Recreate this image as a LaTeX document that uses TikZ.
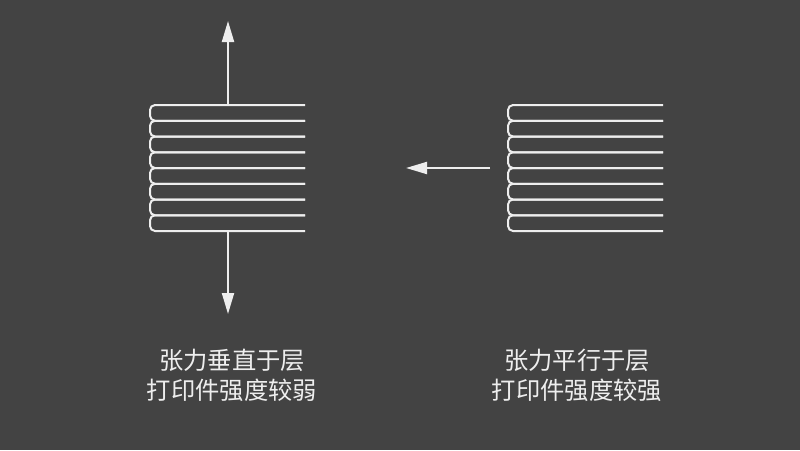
\documentclass[tikz,border=0pt]{standalone}
\usepackage{fontspec}
\newfontfamily\cjk{Noto Sans CJK SC}
\usetikzlibrary{arrows.meta}
\definecolor{bg}{HTML}{434343}
\definecolor{ink}{HTML}{EEEEEE}
\tikzset{
  layer/.style={draw=ink, line width=2pt},
  force/.style={draw=ink, line width=2pt, -{Triangle[length=21pt,width=12pt]}},
  caption/.style={text=ink, font=\cjk\fontsize{24.3}{30}\selectfont, align=center, inner sep=0pt}
}
% one stack of printed layers, joined by small bends on the left
\newcommand{\layerstack}[3]{% left x, right x, name prefix
  \foreach \i in {0,...,8}{
    \coordinate (#3r\i) at (#2,105+\i*15.75);
  }
  \foreach \i [evaluate=\i as \j using int(\i+1)] in {0,...,7}{
    \draw[layer, rounded corners=5pt] (#3r\i) -- (#1,105+\i*15.75) -- (#1,105+\j*15.75) -- (#3r\j);
  }
}
\begin{document}
\begin{tikzpicture}[x=1pt,y=-1pt]
  \fill[bg] (0,0) rectangle (800,450);
  \useasboundingbox (0,0) rectangle (800,450);

  % layer stacks
  \layerstack{150}{305}{L}
  \layerstack{508}{663}{R}

  % tension across the layers
  \coordinate (Ltop) at (228,105);
  \coordinate (Lbot) at (228,231);
  \coordinate (upTip) at (228,21);
  \coordinate (downTip) at (228,314);
  \draw[force] (Ltop) -- (upTip);
  \draw[force] (Lbot) -- (downTip);

  % tension along the layers
  \coordinate (pullTail) at (490,168);
  \coordinate (pullTip) at (406,168);
  \draw[force] (pullTail) -- (pullTip);

  % captions
  \node[caption] (capL) at (232,375) {张力垂直于层\\打印件强度较弱};
  \node[caption] (capR) at (577,375) {张力平行于层\\打印件强度较强};
\end{tikzpicture}
\end{document}
